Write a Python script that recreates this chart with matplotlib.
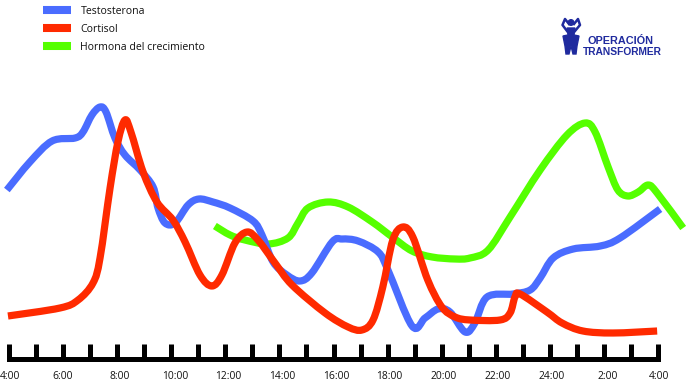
import numpy as np
import matplotlib.pyplot as plt
from matplotlib.path import Path
from matplotlib.patches import PathPatch, Circle, Polygon
from matplotlib.lines import Line2D
from matplotlib.transforms import ScaledTranslation

# hours since midnight of first day, level = height above the time axis
test_hours = [3.94, 4.79, 5.61, 6.46, 6.75, 7.08, 7.38, 7.60, 7.93, 8.30, 8.86, 9.34, 9.52, 9.78, 10.15, 10.63, 11.03, 11.55, 12.18, 13.03, 13.36, 13.77, 14.28, 14.76, 15.20, 15.95, 16.32, 16.91, 17.65, 18.01, 18.90, 19.38, 19.86, 20.30, 20.86, 21.22, 21.67, 22.63, 23.26, 23.63, 24.11, 24.85, 25.85, 26.58, 28.06]
test_level = [168.5, 196.5, 217.5, 220.5, 226.5, 243.5, 251.5, 246.5, 220.5, 203.5, 188.5, 171.5, 150.5, 135.5, 135.5, 153.5, 159.5, 156.5, 150.5, 137.5, 123.5, 96.5, 83.5, 77.5, 85.5, 116.5, 119.5, 117.5, 106.5, 88.5, 32.5, 40.5, 49.5, 46.5, 26.5, 35.5, 61.5, 64.5, 68.5, 80.5, 100.5, 109.5, 112.5, 120.5, 149.5]

cort_hours = [3.98, 5.90, 6.57, 7.12, 7.38, 7.75, 8.04, 8.30, 8.52, 8.97, 9.48, 10.07, 10.52, 11.07, 11.51, 11.88, 12.36, 12.81, 13.21, 13.84, 14.47, 15.69, 16.54, 17.05, 17.46, 17.82, 18.19, 18.56, 18.93, 19.48, 20.00, 20.49, 21.04, 22.15, 22.52, 22.70, 22.89, 23.88, 24.44, 25.21, 26.32, 27.95]
cort_level = [42.5, 50.5, 58.5, 75.5, 100.5, 170.5, 216.5, 238.5, 226.5, 186.5, 156.5, 138.5, 116.5, 83.5, 72.5, 83.5, 115.5, 126.5, 118.5, 95.5, 73.5, 45.5, 31.5, 28.5, 38.5, 71.5, 118.5, 131.5, 121.5, 78.5, 51.5, 41.5, 38.5, 38.5, 45.5, 61.5, 64.5, 46.5, 35.5, 27.5, 25.5, 27.5]

gh_hours = [11.62, 12.18, 12.73, 13.58, 14.32, 14.69, 15.06, 15.80, 16.54, 17.43, 18.17, 18.90, 19.64, 20.49, 21.04, 21.71, 22.52, 23.63, 24.62, 25.29, 25.66, 26.14, 26.50, 26.87, 27.25, 27.62, 27.95, 28.91]
gh_level = [132.5, 123.5, 118.5, 114.5, 120.5, 135.5, 150.5, 156.5, 151.5, 136.5, 121.5, 107.5, 101.5, 99.5, 100.5, 108.5, 141.5, 188.5, 223.5, 235.5, 226.5, 191.5, 168.5, 162.5, 166.5, 173.5, 165.5, 130.5]

tick_hours = list(range(4, 29))
label_hours = list(range(4, 29, 2))
tick_labels = ['4:00', '6:00', '8:00', '10:00', '12:00', '14:00', '16:00', '18:00', '20:00', '22:00', '24:00', '2:00', '4:00']
label_nudge = [2, 0, 3, 4, 3, 3, 3, 2, 2, 2, 1, 3, 1]  # labels sit a little right of their ticks, in px

BLUE = '#4a6cff'
RED = '#ff2a00'
GREEN = '#55ff00'
LOGO = '#1f2a9e'
W, H = 686, 384


def smooth_path(xs, ys):
    # bezier through the read points, catmull-rom style handles
    pts = np.column_stack([xs, ys])
    verts = [pts[0]]
    codes = [Path.MOVETO]
    for i in range(len(pts) - 1):
        p0 = pts[max(i - 1, 0)]
        p1 = pts[i]
        p2 = pts[i + 1]
        p3 = pts[min(i + 2, len(pts) - 1)]
        verts += [p1 + (p2 - p0) / 6, p2 - (p3 - p1) / 6, p2]
        codes += [Path.CURVE4] * 3
    return Path(verts, codes)


plt.rcParams['font.family'] = ['Open Sans', 'DejaVu Sans']
fig = plt.figure(figsize=(W / 100, H / 100), dpi=100)

ax = fig.add_axes([8.5 / W, (H - 358.5) / H, 650 / W, 358.5 / H])
ax.set_xlim(4, 28)
ax.set_ylim(0, 358.5)
ax.patch.set_visible(False)
for side in ['top', 'left', 'right']:
    ax.spines[side].set_visible(False)
ax.spines['bottom'].set_linewidth(3.6)
ax.spines['bottom'].set_capstyle('projecting')
ax.set_yticks([])
ax.set_xticks(tick_hours, minor=True)
ax.set_xticks(label_hours)
ax.set_xticklabels(tick_labels, fontsize=7.4, color='#111111')
ax.tick_params(axis='x', which='minor', direction='in', length=11, width=3.6, color='black')
ax.tick_params(axis='x', which='major', direction='in', length=11, width=3.6, color='black', pad=9)
for lab, dx in zip(ax.get_xticklabels(), label_nudge):
    lab.set_transform(lab.get_transform() + ScaledTranslation(dx / 100, 0, fig.dpi_scale_trans))

for hrs, lev, col in [(gh_hours, gh_level, GREEN), (test_hours, test_level, BLUE), (cort_hours, cort_level, RED)]:
    ax.add_patch(PathPatch(smooth_path(hrs, lev), fill=False, edgecolor=col, lw=5.2,
                           capstyle='butt', joinstyle='round', clip_on=False))

handles = [Line2D([], [], color=BLUE, lw=5.8, solid_capstyle='butt'),
           Line2D([], [], color=RED, lw=5.8, solid_capstyle='butt'),
           Line2D([], [], color=GREEN, lw=5.8, solid_capstyle='butt')]
fig.legend(handles, ['Testosterona', 'Cortisol', 'Hormona del crecimiento'], frameon=False,
           loc='upper left', bbox_to_anchor=(43 / W, 1 - 5.5 / H), borderaxespad=0, borderpad=0,
           fontsize=7.6, handlelength=2.65, handletextpad=0.9, labelspacing=0.68, labelcolor='#111111')

# logo, drawn in pixel coords
over = fig.add_axes([0, 0, 1, 1])
over.set_xlim(0, W)
over.set_ylim(H, 0)
over.axis('off')
over.add_patch(Circle((571, 22.5), 2.8, color=LOGO))
over.plot([567, 562.5, 565, 569], [31, 25, 19, 24], color=LOGO, lw=1.8)
over.plot([575, 580, 578, 574], [31, 25, 19, 24], color=LOGO, lw=1.8)
over.add_patch(Polygon([[567, 28], [575, 28], [574, 35], [579, 36], [577, 46], [576, 54], [573, 54], [571, 46],
                        [569, 54], [566, 54], [565, 46], [563, 36], [568, 35]], color=LOGO))
over.text(621, 41, 'OPERACIÓN', color=LOGO, fontsize=7.8, family='Liberation Sans', weight='bold',
          ha='center', va='center')
over.text(622, 52, 'TRANSFORMER', color=LOGO, fontsize=7.4, family='Liberation Sans', weight='bold',
          ha='center', va='center')

fig.savefig('out.png', dpi=100)
